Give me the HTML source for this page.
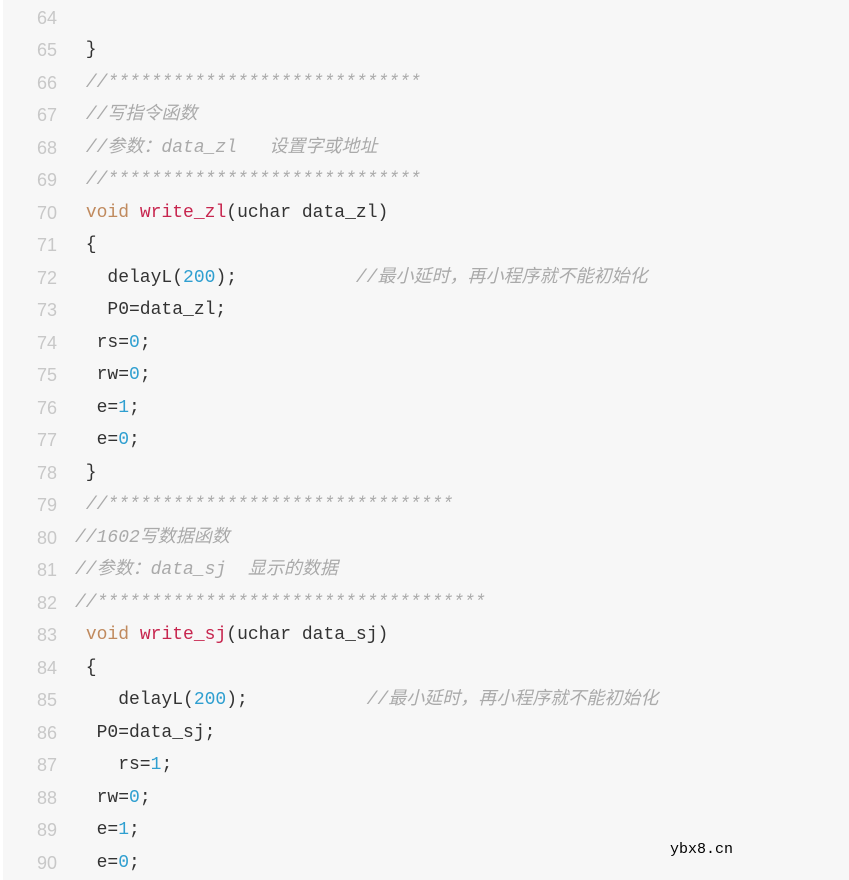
<!DOCTYPE html>
<html><head><meta charset="utf-8"><style>
body{margin:0;width:849px;height:880px;background:#fff;overflow:hidden}
#c{position:absolute;left:3px;top:0;width:846px;height:880px;background:#f7f7f7}
.l{position:absolute;left:0;height:32px;line-height:32px;white-space:pre;font-family:"Liberation Mono","Noto Sans CJK SC",monospace;font-size:18px;color:#333}
.n{position:absolute;left:28px;width:26px;text-align:right;color:#c8c8c8;font-family:"Liberation Sans",sans-serif;font-size:18px}
.t{position:absolute;left:72px}
.k{color:#c08a5e}.f{color:#c7254e}.d{color:#2f9fd0}.c{color:#aaa;font-style:italic}
#w{position:absolute;left:670px;top:841px;font-family:"Liberation Mono",monospace;font-size:15px;color:#000}
</style></head><body><div id="c">
<div class="l" style="top:2px"><span class="n">64</span></div>
<div class="l" style="top:34px"><span class="n">65</span><span class="t"> }</span></div>
<div class="l" style="top:67px"><span class="n">66</span><span class="t"> <span class="c">//*****************************</span></span></div>
<div class="l" style="top:99px"><span class="n">67</span><span class="t"> <span class="c">//写指令函数</span></span></div>
<div class="l" style="top:132px"><span class="n">68</span><span class="t"> <span class="c">//参数：data_zl   设置字或地址</span></span></div>
<div class="l" style="top:164px"><span class="n">69</span><span class="t"> <span class="c">//*****************************</span></span></div>
<div class="l" style="top:197px"><span class="n">70</span><span class="t"> <span class="k">void</span> <span class="f">write_zl</span>(uchar data_zl)</span></div>
<div class="l" style="top:229px"><span class="n">71</span><span class="t"> {</span></div>
<div class="l" style="top:262px"><span class="n">72</span><span class="t">   delayL(<span class="d">200</span>);           <span class="c">//最小延时，再小程序就不能初始化</span></span></div>
<div class="l" style="top:294px"><span class="n">73</span><span class="t">   P0=data_zl;</span></div>
<div class="l" style="top:327px"><span class="n">74</span><span class="t">  rs=<span class="d">0</span>;</span></div>
<div class="l" style="top:359px"><span class="n">75</span><span class="t">  rw=<span class="d">0</span>;</span></div>
<div class="l" style="top:392px"><span class="n">76</span><span class="t">  e=<span class="d">1</span>;</span></div>
<div class="l" style="top:424px"><span class="n">77</span><span class="t">  e=<span class="d">0</span>;</span></div>
<div class="l" style="top:457px"><span class="n">78</span><span class="t"> }</span></div>
<div class="l" style="top:489px"><span class="n">79</span><span class="t"> <span class="c">//********************************</span></span></div>
<div class="l" style="top:522px"><span class="n">80</span><span class="t"><span class="c">//1602写数据函数</span></span></div>
<div class="l" style="top:554px"><span class="n">81</span><span class="t"><span class="c">//参数：data_sj  显示的数据</span></span></div>
<div class="l" style="top:587px"><span class="n">82</span><span class="t"><span class="c">//************************************</span></span></div>
<div class="l" style="top:619px"><span class="n">83</span><span class="t"> <span class="k">void</span> <span class="f">write_sj</span>(uchar data_sj)</span></div>
<div class="l" style="top:652px"><span class="n">84</span><span class="t"> {</span></div>
<div class="l" style="top:684px"><span class="n">85</span><span class="t">    delayL(<span class="d">200</span>);           <span class="c">//最小延时，再小程序就不能初始化</span></span></div>
<div class="l" style="top:717px"><span class="n">86</span><span class="t">  P0=data_sj;</span></div>
<div class="l" style="top:749px"><span class="n">87</span><span class="t">    rs=<span class="d">1</span>;</span></div>
<div class="l" style="top:782px"><span class="n">88</span><span class="t">  rw=<span class="d">0</span>;</span></div>
<div class="l" style="top:814px"><span class="n">89</span><span class="t">  e=<span class="d">1</span>;</span></div>
<div class="l" style="top:847px"><span class="n">90</span><span class="t">  e=<span class="d">0</span>;</span></div>
</div>
<div id="w">ybx8.cn</div>
</body></html>
